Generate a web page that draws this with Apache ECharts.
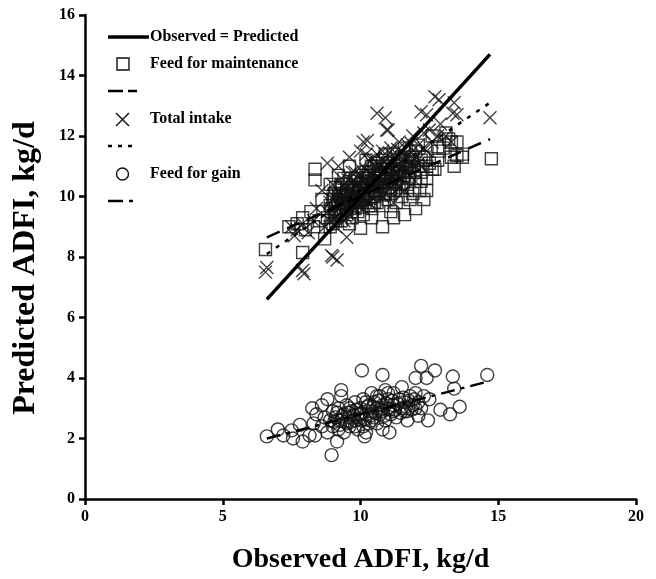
<!DOCTYPE html>
<html>
<head>
<meta charset="utf-8">
<script src="https://cdn.jsdelivr.net/npm/echarts@6/dist/echarts.min.js"></script>
<style>html,body{margin:0;padding:0;background:#fff}#c{width:656px;height:579px}</style>
</head>
<body>
<div id="c"></div>
<script>
const xTicks = [0, 5, 10, 15, 20];
const yTicks = [0, 2, 4, 6, 8, 10, 12, 14, 16];

const maintenance = [
[6.55,8.25],[7.9,8.15],[7.4,9.0],[7.7,9.1],[8.0,8.9],[8.35,10.9],[8.35,10.55],[8.6,9.9],[8.7,8.6],[10.0,8.95],[10.8,9.0],
[12.0,9.6],[12.4,10.2],[12.15,10.2],[12.85,11.5],[13.1,12.1],[13.5,11.35],[13.7,11.4],[14.75,11.25],[13.3,11.8],[13.4,11.0],
[12.7,10.9],[12.2,10.5],[11.6,9.4],[11.2,9.3],[12.6,12.0],[12.8,11.65],[13.2,11.9],[13.5,11.8],[13.3,11.3],[13.7,11.3],
[8.8,9.3],[8.9,9.7],[9.0,9.1],[9.0,9.9],[9.1,10.3],[9.1,9.5],[9.2,9.8],[9.2,10.1],[9.3,9.2],[9.3,9.6],[9.3,10.4],[9.4,9.9],
[9.4,10.0],[9.5,9.4],[9.5,9.7],[9.5,10.2],[9.6,9.8],[9.6,10.5],[9.7,9.3],[9.7,10.0],[9.7,10.3],[9.8,9.6],[9.8,9.9],[9.8,10.6],
[9.9,10.1],[9.9,9.5],[10.0,9.8],[10.0,10.4],[10.0,10.0],[10.1,9.4],[10.1,10.2],[10.1,10.7],[10.2,9.9],[10.2,10.5],[10.3,9.7],
[10.3,10.1],[10.3,10.8],[10.4,10.3],[10.4,9.6],[10.5,10.0],[10.5,10.6],[10.5,11.0],[10.6,9.8],[10.6,10.4],[10.7,10.2],[10.7,10.9],
[10.8,10.5],[10.8,9.7],[10.9,10.1],[10.9,10.7],[11.0,10.3],[11.0,11.1],[11.0,9.9],[11.1,10.6],[11.2,10.2],[11.2,10.9],[11.3,10.5],
[11.3,9.8],[11.4,10.8],[11.4,11.2],[11.5,10.3],[11.5,10.0],[11.6,10.7],[11.7,11.0],[11.7,10.4],[11.8,10.8],[11.9,10.1],[11.9,11.3],
[12.0,10.6],[12.1,11.0],[12.2,10.8],[12.3,11.3],[12.4,10.6],[12.5,11.1],[12.6,10.9],[12.8,11.2],[13.0,11.6],[9.6,9.1],[10.4,9.3],
[11.1,9.5],[11.8,9.9],[12.3,9.9],[8.9,10.4],[9.2,10.7],[9.6,11.0],[10.2,11.2],[10.9,11.4],[11.6,11.6],[12.1,11.7],[8.5,9.2],
[8.2,9.5],[7.9,9.3],[8.3,9.0],
[9.05,9.45],[9.15,9.85],[9.25,10.05],[9.35,9.75],[9.45,9.55],[9.55,10.05],[9.65,9.65],[9.75,10.15],[9.85,9.85],[9.95,10.25],
[10.05,9.65],[10.15,10.05],[10.25,10.35],[10.35,9.95],[10.45,10.45],[10.55,10.15],[10.65,10.75],[10.75,10.35],[10.85,10.05],
[10.95,10.55],[11.05,10.25],[11.15,10.75],[11.25,10.45],[11.35,11.05],[11.45,10.65],[11.55,10.45],[11.65,10.95],[11.75,10.65],
[11.85,11.15],[11.95,10.85],[9.1,9.2],[9.3,9.9],[9.5,10.4],[9.7,9.5],[9.9,10.6],[10.1,9.9],[10.3,10.6],[10.5,9.8],[10.7,10.6],
[10.9,10.9],[11.1,10.1],[11.3,10.7],[11.5,11.3],[11.7,10.2],[9.4,10.6],[9.8,10.3],[10.2,10.7],[10.6,11.1],[11.0,10.8],[11.4,10.4],
[8.9,9.0],[8.95,9.6],[9.05,10.1],[10.4,11.0],[10.8,11.2],[11.2,11.4],[12.2,11.2],[12.4,11.0],[12.0,11.5],[11.8,11.5]
];

const totalIntake = [
[6.55,7.5],[6.6,7.65],[7.9,7.55],[7.95,7.45],[9.0,8.0],[9.15,7.9],[8.95,8.05],[7.5,9.0],[7.7,8.9],[7.9,9.1],[7.6,8.7],[8.1,8.8],
[8.3,9.2],[9.5,8.65],[8.8,11.1],[10.1,11.8],[10.25,11.85],[10.6,12.75],[10.9,12.6],[10.95,12.2],[11.0,12.2],[12.2,12.8],[12.4,12.7],
[12.7,13.3],[12.85,13.2],[12.9,12.4],[13.35,12.75],[13.4,13.1],[13.5,12.7],[14.7,12.6],[13.1,12.0],[13.3,11.8],
[8.7,9.0],[8.8,9.5],[8.9,9.2],[9.0,9.6],[9.0,9.9],[9.1,9.3],[9.2,9.7],[9.2,10.2],[9.3,9.5],[9.3,10.0],[9.4,9.2],[9.4,9.8],
[9.5,10.3],[9.5,9.6],[9.6,10.0],[9.6,9.4],[9.7,10.5],[9.7,9.8],[9.8,10.1],[9.8,10.8],[9.9,9.7],[9.9,10.4],[10.0,10.0],[10.0,10.7],
[10.1,10.3],[10.1,9.6],[10.2,10.9],[10.2,10.1],[10.3,10.5],[10.3,11.2],[10.4,10.0],[10.4,10.7],[10.5,11.0],[10.5,10.3],[10.6,11.4],
[10.6,10.6],[10.7,10.1],[10.7,11.0],[10.8,10.8],[10.8,11.5],[10.9,10.4],[11.0,11.1],[11.0,10.6],[11.1,11.6],[11.1,10.9],[11.2,10.5],
[11.3,11.3],[11.3,10.8],[11.4,11.8],[11.5,11.0],[11.5,10.6],[11.6,11.4],[11.7,11.7],[11.8,11.1],[11.9,12.0],[12.0,11.3],[12.1,11.7],
[12.2,11.0],[12.3,12.1],[12.4,11.5],[12.6,11.8],[12.8,12.0],[9.2,11.0],[9.6,11.3],[10.0,11.5],[11.6,10.2],[12.0,10.5],[11.2,9.8],
[8.6,10.2],[8.4,9.6],
[9.05,9.45],[9.15,10.05],[9.25,9.85],[9.35,10.35],[9.45,9.95],[9.55,10.55],[9.65,10.15],[9.75,9.65],[9.85,10.45],[9.95,10.15],
[10.05,10.85],[10.15,10.45],[10.25,9.85],[10.35,10.75],[10.45,11.25],[10.55,10.45],[10.65,10.95],[10.75,10.55],[10.85,11.15],
[10.95,10.85],[11.05,11.45],[11.15,10.65],[11.25,11.15],[11.35,11.55],[11.45,10.85],[11.55,11.25],[11.65,10.85],[11.75,11.35],
[11.85,11.75],[11.95,11.05],[9.1,9.0],[9.3,10.6],[9.5,9.3],[9.7,10.8],[9.9,9.9],[10.1,10.6],[10.3,9.8],[10.5,10.8],[10.7,10.4],
[10.9,11.3],[11.1,10.3],[11.3,11.0],[11.5,11.5],[11.7,10.9],[8.9,9.8],[9.0,10.4],[10.2,11.4],[10.8,10.0],[11.4,10.3],[12.1,11.1],
[12.3,11.6],[12.5,12.2]
];

const feedForGain = [
[6.6,2.07],[7.5,2.27],[7.55,2.0],[7.8,2.45],[7.9,1.9],[8.15,2.1],[8.35,2.1],[8.25,3.0],[8.4,2.8],[8.8,3.3],[8.95,1.45],[9.15,1.9],
[9.3,3.4],[10.05,4.25],[10.15,2.07],[10.8,4.1],[11.05,2.2],[12.0,4.0],[12.2,4.4],[12.4,4.0],[12.7,4.25],[13.35,4.05],[13.4,3.65],
[14.6,4.1],[13.6,3.05],[13.25,2.8],[12.9,2.95],[12.45,2.6],[12.1,2.75],[7.2,2.1],[7.0,2.3],
[8.6,2.4],[8.7,2.7],[8.8,2.2],[8.9,2.6],[9.0,2.9],[9.0,2.4],[9.1,2.7],[9.2,2.3],[9.2,3.0],[9.3,2.6],[9.4,2.8],[9.4,2.2],
[9.5,2.5],[9.5,3.1],[9.6,2.7],[9.6,2.4],[9.7,2.9],[9.8,2.6],[9.8,3.2],[9.9,2.3],[9.9,2.8],[10.0,2.6],[10.0,3.0],[10.1,2.4],
[10.1,3.3],[10.2,2.8],[10.3,2.5],[10.3,3.1],[10.4,2.9],[10.4,3.5],[10.5,2.7],[10.5,3.2],[10.6,3.0],[10.6,2.5],[10.7,3.4],[10.7,2.8],
[10.8,3.1],[10.9,2.6],[10.9,3.6],[11.0,3.0],[11.0,3.3],[11.1,2.8],[11.2,3.5],[11.2,3.1],[11.3,2.7],[11.4,3.3],[11.5,3.0],[11.5,3.7],
[11.6,3.2],[11.7,2.9],[11.8,3.4],[11.9,3.1],[12.0,3.5],[12.1,3.2],[12.2,3.0],[12.3,3.4],[12.5,3.3],[9.3,3.6],[8.6,3.1],[8.3,2.5],
[10.2,2.2],[10.8,2.3],[11.7,2.6],
[9.05,2.55],[9.15,2.85],[9.25,2.45],[9.35,2.75],[9.45,2.55],[9.55,2.85],[9.65,2.55],[9.75,2.75],[9.85,2.95],[9.95,2.65],
[10.05,2.85],[10.15,2.65],[10.25,3.05],[10.35,2.75],[10.45,3.05],[10.55,2.85],[10.65,3.25],[10.75,2.95],[10.85,2.75],[10.95,3.15],
[11.05,2.95],[11.15,3.25],[11.25,2.95],[11.35,3.15],[11.45,2.85],[11.55,3.35],[11.65,3.05],[11.75,3.25],[11.85,2.95],[11.95,3.3],
[9.2,2.6],[9.6,3.0],[10.0,2.8],[10.4,2.6],[10.8,2.9],[11.2,2.9],[11.6,2.9],[12.0,3.0],[10.6,3.4],[11.0,3.5],[9.8,2.4],[10.2,3.2]
];

const identityLine = [[6.6,6.6],[14.7,14.7]];
const maintenanceFit = [[6.6,8.65],[14.7,11.9]];
const totalFit = [[6.6,8.1],[14.7,13.1]];
const gainFit = [[6.6,2.0],[14.7,3.9]];

const legendLabels = ['Observed = Predicted','Feed for maintenance','Total intake','Feed for gain'];

const FONT = '"Liberation Serif", "Times New Roman", serif';
const chart = echarts.init(document.getElementById('c'), null, {renderer:'canvas'});

const hollow = {color:'rgba(0,0,0,0)', borderColor:'#111', borderWidth:1.4};
const xPath = 'path://M0,0L10,10M10,0L0,10';

const lx = 108;
const LF = 'bold 16px ' + FONT;
const graphic = [
  {type:'line', shape:{x1:lx,y1:37,x2:149,y2:37}, style:{stroke:'#000',lineWidth:3.5}},
  {type:'text', left:150, top:29, style:{text:legendLabels[0], font:LF, fill:'#000'}},
  {type:'rect', shape:{x:117,y:58,width:12,height:12}, style:{fill:'none',stroke:'#111',lineWidth:1.4}},
  {type:'text', left:150, top:56, style:{text:legendLabels[1], font:LF, fill:'#000'}},
  {type:'line', shape:{x1:lx,y1:91,x2:123,y2:91}, style:{stroke:'#000',lineWidth:2.5}},
  {type:'line', shape:{x1:128,y1:91,x2:137,y2:91}, style:{stroke:'#000',lineWidth:2.5}},
  {type:'line', shape:{x1:116,y1:113,x2:129,y2:126}, style:{stroke:'#111',lineWidth:1.4}},
  {type:'line', shape:{x1:129,y1:113,x2:116,y2:126}, style:{stroke:'#111',lineWidth:1.4}},
  {type:'text', left:150, top:111, style:{text:legendLabels[2], font:LF, fill:'#000'}},
  {type:'line', shape:{x1:108,y1:146,x2:112,y2:146}, style:{stroke:'#000',lineWidth:2.5}},
  {type:'line', shape:{x1:118,y1:146,x2:122,y2:146}, style:{stroke:'#000',lineWidth:2.5}},
  {type:'line', shape:{x1:128,y1:146,x2:132,y2:146}, style:{stroke:'#000',lineWidth:2.5}},
  {type:'circle', shape:{cx:122.5,cy:174,r:6}, style:{fill:'none',stroke:'#111',lineWidth:1.4}},
  {type:'text', left:150, top:166, style:{text:legendLabels[3], font:LF, fill:'#000'}},
  {type:'line', shape:{x1:lx,y1:201,x2:123,y2:201}, style:{stroke:'#000',lineWidth:2.5}},
  {type:'line', shape:{x1:129,y1:201,x2:133,y2:201}, style:{stroke:'#000',lineWidth:2.5}}
];

const option = {
  animation:false,
  backgroundColor:'#fff',
  grid:{left:85, right:20, top:15, bottom:78, containLabel:false},
  xAxis:{
    type:'value', min:0, max:20, interval:5,
    name:'Observed ADFI, kg/d', nameLocation:'middle', nameGap:47,
    nameTextStyle:{fontFamily:FONT, fontWeight:'bold', fontSize:28, color:'#000'},
    axisLine:{show:true, onZero:false, lineStyle:{color:'#000', width:2.5}},
    axisTick:{show:true, length:6, lineStyle:{color:'#000', width:2.5}},
    axisLabel:{fontFamily:FONT, fontWeight:'bold', fontSize:16, color:'#000', margin:10,
      formatter:function(v){return xTicks.indexOf(v)>=0?String(v):'';}},
    splitLine:{show:false}
  },
  yAxis:{
    type:'value', min:0, max:16, interval:2,
    name:'Predicted ADFI, kg/d', nameLocation:'middle', nameGap:43,
    nameTextStyle:{fontFamily:FONT, fontWeight:'bold', fontSize:32, color:'#000', padding:[0,22,0,0]},
    axisLine:{show:true, onZero:false, lineStyle:{color:'#000', width:2.5}},
    axisTick:{show:true, length:6, lineStyle:{color:'#000', width:2.5}},
    axisLabel:{fontFamily:FONT, fontWeight:'bold', fontSize:16, color:'#000', margin:10,
      formatter:function(v){return yTicks.indexOf(v)>=0?String(v):'';}},
    splitLine:{show:false}
  },
  graphic:graphic,
  series:[
    {name:legendLabels[1], type:'scatter', data:maintenance, symbol:'rect', symbolSize:12, itemStyle:hollow, z:3},
    {name:legendLabels[2], type:'scatter', data:totalIntake, symbol:xPath, symbolSize:13,
      itemStyle:{color:'rgba(0,0,0,0)', borderColor:'#111', borderWidth:1.4}, z:3},
    {name:legendLabels[3], type:'scatter', data:feedForGain, symbol:'circle', symbolSize:13, itemStyle:hollow, z:3},
    {name:legendLabels[0], type:'line', data:identityLine, showSymbol:false, symbol:'none',
      lineStyle:{color:'#000', width:3.5}, z:5},
    {type:'line', data:maintenanceFit, symbol:'none', lineStyle:{color:'#000', width:2.5, type:[14,8]}, z:5},
    {type:'line', data:totalFit, symbol:'none', lineStyle:{color:'#000', width:2.5, type:[4,7]}, z:5},
    {type:'line', data:gainFit, symbol:'none', lineStyle:{color:'#000', width:2.5, type:[14,6,4,6]}, z:5}
  ]
};
chart.setOption(option);
</script>
</body>
</html>
